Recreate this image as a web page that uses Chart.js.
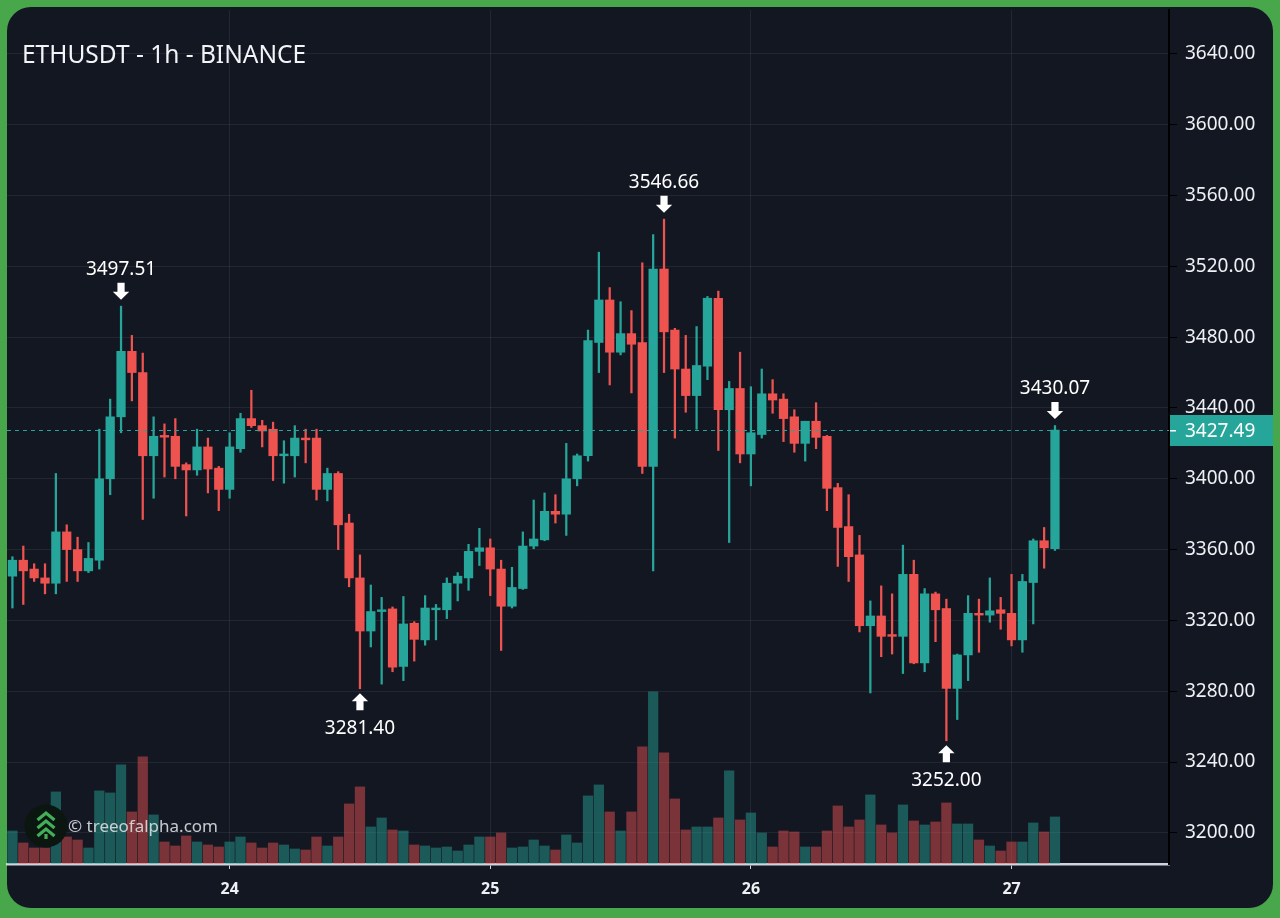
<!DOCTYPE html>
<html><head><meta charset="utf-8">
<script src="https://cdn.jsdelivr.net/npm/chart.js@4.4.1/dist/chart.umd.min.js"></script>
<style>
html,body{margin:0;padding:0;background:#48a64b;width:1280px;height:918px;overflow:hidden}
#card{position:absolute;left:7px;top:7px;width:1266px;height:901px;border-radius:24px;background:#131722}
#c{position:absolute;left:0;top:0}
</style></head><body>
<div id="card"></div>
<canvas id="c" width="1280" height="918"></canvas>
<script>
const chartTitle = 'ETHUSDT - 1h - BINANCE';
const watermark = '© treeofalpha.com';
const dayLabels = ['24', '25', '26', '27'];
const dayTickIndex = [20, 44, 68, 92];
const priceTicks = [3200, 3240, 3280, 3320, 3360, 3400, 3440, 3480, 3520, 3560, 3600, 3640];
const priceMin = 3182.4, priceMax = 3664.8;
const xMin = -0.5, xMax = 106.5;
const volMax = 170600;

const open = [3345,3354,3349,3344,3341,3370,3360,3348,3354,3400,3435,3472,3460,3413,3424.5,3424,3408,3405,3418,3406,
3394,3417,3434,3430,3428,3413,3413,3423,3423,3394,3403,3375,3344,3314,3325,3326.5,3294,3318.4,3309,3326,
3326,3341,3344,3359,3361,3349,3328,3338,3362,3365.5,3381.6,3380,3400,3413,3477,3501,3471.5,3482,3477,3407,
3518.5,3484,3462,3447,3463.6,3502,3439,3451,3414,3425,3448,3445,3435,3420,3432.5,3424,3395,3373,3357,3317,
3322.5,3312,3311,3346,3296,3335,3326.7,3281.6,3300.5,3324,3323,3326,3324,3309,3341.4,3365,3360.5];
const high = [3356,3362,3352,3352,3403,3374,3367,3364,3428,3445,3497.51,3481,3471,3435,3431,3434,3409,3428,3423,3407,
3426,3437,3450,3433,3432,3421.5,3430,3428,3428,3406,3404,3380,3357,3340,3333,3327.6,3333.5,3319.3,3334,3329,
3344,3347,3363,3372,3366,3354,3350,3370,3388,3392,3391,3420,3414,3484,3528,3508,3500,3495,3522,3538,
3546.66,3485,3481,3486,3503,3506,3455,3471.5,3452,3462,3456,3448,3439,3432.5,3443,3424.5,3397.4,3391,3368,3331,
3339.5,3335,3362.5,3354,3338,3336,3332,3301,3334,3332,3344,3333,3346,3346,3366,3372.5,3430.07];
const low = [3327,3329,3342,3335,3335,3342,3342,3347,3349,3391,3426,3444,3377,3389,3401,3400,3379,3402,3392,3382,
3389,3415,3429,3418,3399,3397.5,3401,3409,3388,3387.5,3360,3339,3281.40,3305,3284,3291,3286,3297,3306,3309,
3321,3331,3337,3351,3334,3303,3327,3337.5,3360.5,3365,3375,3368,3396,3410,3460,3453,3470,3448.5,3403,3348,
3460,3423,3437.6,3428,3456,3416,3364,3409,3396,3423,3437,3421,3415,3410,3417,3382,3350.5,3342,3313.5,3279,
3299.5,3301,3290,3295.5,3291,3308,3252.00,3264,3286,3302,3319,3315,3305.6,3302,3318,3349.5,3359.5];
const close = [3354,3348,3344,3341,3370,3360,3348,3355,3400,3435,3472,3460,3413,3424,3423.5,3407,3405,3418,3405.5,3394,
3418,3434,3430,3427,3413,3414,3423,3422,3394,3403,3374,3344,3314,3325,3326,3293.6,3318,3309.3,3327,3327,
3341,3345,3359,3361,3349,3328,3338.6,3362,3366,3381.6,3380,3400,3413,3478,3501,3471.5,3482,3476,3407,3518.5,
3483,3462,3447,3464,3502,3439,3451,3414,3426,3448,3444.5,3434,3420,3432.5,3423.4,3394.6,3372.5,3356,3317,3322.5,
3311,3311,3346,3296,3335,3326,3281.6,3300.5,3324,3323,3325.4,3324,3309,3342,3365,3361,3427.49];
const volume = [6600,4200,3200,3200,14400,5400,4800,3200,14600,14200,19800,10400,21400,9800,4400,3600,5600,4400,3800,3400,
4400,5400,4200,3200,4200,3800,3000,2800,5400,3600,5400,12000,15400,7400,9200,6800,6600,3800,3600,3200,
3400,2600,3800,5400,5400,6200,3200,3400,4800,3600,2800,5800,4200,13600,15800,10400,6600,10400,23400,34400,
22200,13000,6800,7400,7400,9200,18600,8800,10200,6200,3400,6600,6400,3400,3400,6600,11600,7400,8800,13800,
7800,6200,11800,8600,7800,8400,12200,8000,8000,4800,3600,2600,4400,4400,8200,6400,9400];
const extremes = [{i: 10, side: 'high'}, {i: 32, side: 'low'}, {i: 60, side: 'high'}, {i: 86, side: 'low'}, {i: 96, side: 'high'}];

const UP = '#26a69a', DOWN = '#ef5350';
const UP_VOL = 'rgba(38,166,154,0.47)', DOWN_VOL = 'rgba(239,83,80,0.47)';
const isUp = open.map((o, i) => close[i] >= o);
const candleColors = isUp.map(u => u ? UP : DOWN);
const volColors = isUp.map(u => u ? UP_VOL : DOWN_VOL);
const lastPrice = close[close.length - 1];

Chart.defaults.font.family = "'Noto Sans', 'Open Sans', sans-serif";

function arrow(ctx, cx, tipY, dir) {
  ctx.beginPath();
  ctx.moveTo(cx - 3.6, tipY - dir * 17);
  ctx.lineTo(cx + 3.6, tipY - dir * 17);
  ctx.lineTo(cx + 3.6, tipY - dir * 8);
  ctx.lineTo(cx + 8.2, tipY - dir * 8);
  ctx.lineTo(cx, tipY);
  ctx.lineTo(cx - 8.2, tipY - dir * 8);
  ctx.lineTo(cx - 3.6, tipY - dir * 8);
  ctx.closePath();
  ctx.fill();
}

const overlay = {
  id: 'overlay',
  afterDraw(chart) {
    const {ctx, chartArea: a, scales: {x, y}} = chart;
    ctx.save();
    const py = Math.round(y.getPixelForValue(lastPrice)) + 0.5;
    ctx.strokeStyle = UP; ctx.lineWidth = 1.2; ctx.setLineDash([4, 4]);
    ctx.beginPath(); ctx.moveTo(a.left, py); ctx.lineTo(a.right, py); ctx.stroke();
    ctx.setLineDash([]);
    ctx.fillStyle = UP;
    ctx.fillRect(a.right + 1, py - 15.5, 1273 - a.right - 1, 31);
    ctx.fillStyle = '#ffffff';
    ctx.fillRect(a.right + 1, py - 0.5, 6, 1.5);
    ctx.font = "19px 'Noto Sans'"; ctx.textBaseline = 'middle'; ctx.textAlign = 'left';
    ctx.fillText(lastPrice.toFixed(2), a.right + 16, py + 1);

    ctx.textAlign = 'center';
    extremes.forEach(e => {
      const cx = x.getPixelForValue(e.i);
      if (e.side === 'high') {
        const yy = y.getPixelForValue(high[e.i]);
        arrow(ctx, cx, yy - 6.5, 1);
        ctx.fillText(high[e.i].toFixed(2), cx, yy - 36.5);
      } else {
        const yy = y.getPixelForValue(low[e.i]);
        arrow(ctx, cx, yy + 4.5, -1);
        ctx.fillText(low[e.i].toFixed(2), cx, yy + 40);
      }
    });

    ctx.textAlign = 'left';
    ctx.fillStyle = '#f2f4f8';
    ctx.font = "24.5px 'Noto Sans'";
    ctx.fillText(chartTitle, 22, 56);

    ctx.fillStyle = '#0b1611';
    ctx.beginPath(); ctx.arc(46, 826, 21.5, 0, Math.PI * 2); ctx.fill();
    ctx.strokeStyle = '#43ad58'; ctx.lineWidth = 3.2; ctx.lineJoin = 'miter';
    [813, 821, 829].forEach(t => {
      ctx.beginPath(); ctx.moveTo(37.5, t + 7); ctx.lineTo(46, t); ctx.lineTo(54.5, t + 7); ctx.stroke();
    });
    ctx.fillStyle = '#43ad58';
    ctx.fillRect(44.4, 834, 3.2, 5);
    ctx.fillStyle = 'rgba(222,225,230,0.88)';
    ctx.font = "17px 'Noto Sans'";
    ctx.fillText(watermark, 68, 827);
    ctx.restore();
  }
};

new Chart(document.getElementById('c'), {
  type: 'bar',
  data: {
    datasets: [
      {
        label: 'Body',
        data: open.map((o, i) => ({x: i, y: [Math.min(o, close[i]), Math.max(o, close[i])]})),
        backgroundColor: candleColors,
        barThickness: 8.6, grouped: false, borderWidth: 0, borderSkipped: false,
        yAxisID: 'y', order: 1
      },
      {
        label: 'Wick',
        data: low.map((l, i) => ({x: i, y: [l, high[i]]})),
        backgroundColor: candleColors,
        barThickness: 1.6, grouped: false, borderWidth: 0, borderSkipped: false,
        yAxisID: 'y', order: 2
      },
      {
        label: 'Volume',
        data: volume.map((v, i) => ({x: i, y: v})),
        backgroundColor: volColors,
        barThickness: 9.6, grouped: false, borderWidth: 0,
        yAxisID: 'vol', order: 3
      }
    ]
  },
  options: {
    responsive: false,
    animation: false,
    layout: {padding: {left: 7, top: 10, right: 0, bottom: 0}},
    plugins: {legend: {display: false}, tooltip: {enabled: false}},
    scales: {
      x: {
        type: 'linear', min: xMin, max: xMax, offset: false,
        afterBuildTicks: s => { s.ticks = dayTickIndex.map(v => ({value: v})); },
        afterFit: s => { s.height = 54; s.paddingLeft = 0; s.paddingRight = 0; },
        ticks: {
          callback: v => dayLabels[dayTickIndex.indexOf(v)],
          color: '#eef0f4', font: {size: 16, weight: 'bold'}, padding: 11, maxRotation: 0, autoSkip: false
        },
        grid: {offset: false, color: 'rgba(255,255,255,0.07)', tickColor: '#d1d4dc', tickLength: 5},
        border: {color: '#d1d4dc', width: 2.5}
      },
      y: {
        type: 'linear', position: 'right', min: priceMin, max: priceMax,
        afterBuildTicks: s => { s.ticks = priceTicks.map(v => ({value: v})); },
        afterFit: s => { s.width = 111; s.paddingTop = 0; s.paddingBottom = 0; },
        ticks: {callback: v => v.toFixed(2), color: '#eef0f4', font: {size: 19}, padding: 8},
        grid: {color: 'rgba(255,255,255,0.065)', tickColor: '#000000', tickLength: 8},
        border: {color: '#000000', width: 2}
      },
      vol: {type: 'linear', display: false, min: 0, max: volMax}
    }
  },
  plugins: [overlay]
});
</script>
</body></html>
